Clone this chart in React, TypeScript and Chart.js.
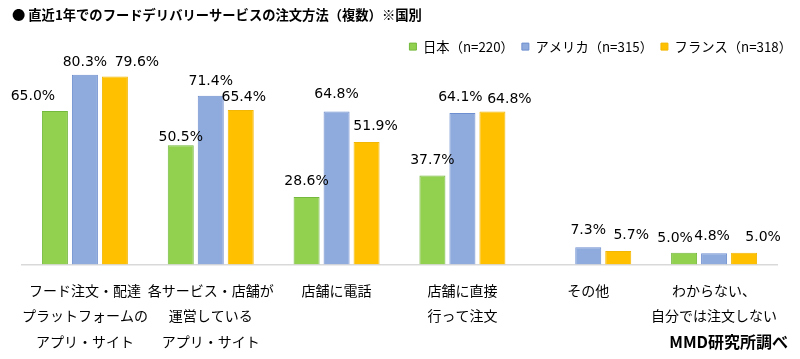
import React, { useEffect, useRef } from 'react';
import { Chart, registerables } from 'chart.js';
Chart.register(...registerables);

const categories = [
  ['フード注文・配達', 'プラットフォームの', 'アプリ・サイト'],
  ['各サービス・店舗が', '運営している', 'アプリ・サイト'],
  ['店舗に電話'],
  ['店舗に直接', '行って注文'],
  ['その他'],
  ['わからない、', '自分では注文しない'],
];
const seriesNames = ['日本（n=220）', 'アメリカ（n=315）', 'フランス（n=318）'];
const japan = [65.0, 50.5, 28.6, 37.7, null, 5.0];
const usa = [80.3, 71.4, 64.8, 64.1, 7.3, 4.8];
const france = [79.6, 65.4, 51.9, 64.8, 5.7, 5.0];
const titleText = '● 直近1年でのフードデリバリーサービスの注文方法（複数）※国別';
const sourceText = 'MMD研究所調べ';

// manual nudges of the value labels (as in the original)
const labelDx = [
  [-22, 0, 0, 0, 0, -9],
  [0, 0, 0, -2, 0, -2],
  [22, 3, 9, 17, 13, 19],
];
const labelDy = [
  [0, 7, -1, 0, 0, 1],
  [3, 0, -2, -1, -2, -2],
  [1, 2, -1, 3, -1, 0],
];

const JP = '"Noto Sans CJK JP", "Noto Sans", sans-serif';

const valueLabels = {
  id: 'valueLabels',
  afterDatasetsDraw(chart: any) {
    const ctx = chart.ctx;
    ctx.save();
    ctx.font = '14px "DejaVu Sans", sans-serif';
    ctx.fillStyle = '#000';
    ctx.textAlign = 'center';
    ctx.textBaseline = 'middle';
    chart.data.datasets.forEach((ds: any, di: number) => {
      const meta = chart.getDatasetMeta(di);
      meta.data.forEach((bar: any, i: number) => {
        const v = ds.data[i];
        if (v == null) return;
        ctx.fillText(v.toFixed(1) + '%', bar.x + labelDx[di][i], bar.y - 15 + labelDy[di][i]);
      });
    });
    ctx.restore();
  },
};

const sourceNote = {
  id: 'sourceNote',
  afterDraw(chart: any) {
    const ctx = chart.ctx;
    ctx.save();
    ctx.font = 'bold 16px ' + JP;
    ctx.fillStyle = '#000';
    ctx.textAlign = 'right';
    ctx.textBaseline = 'middle';
    ctx.fillText(sourceText, chart.width - 12, 342);
    ctx.restore();
  },
};

export default function App() {
  const ref = useRef<HTMLCanvasElement>(null);
  useEffect(() => {
    document.body.style.margin = '0';
    const chart = new Chart(ref.current!, {
      type: 'bar',
      data: {
        labels: categories,
        datasets: [
          { label: seriesNames[0], data: japan, backgroundColor: '#92D050', borderColor: '#74B83C', borderWidth: 1 },
          { label: seriesNames[1], data: usa, backgroundColor: '#8FAADC', borderColor: '#6E8FCF', borderWidth: 1 },
          { label: seriesNames[2], data: france, backgroundColor: '#FFC000', borderColor: '#F2B705', borderWidth: 1 },
        ],
      },
      options: {
        animation: false,
        responsive: false,
        maintainAspectRatio: false,
        categoryPercentage: 0.715,
        barPercentage: 0.867,
        layout: { padding: { left: 12, right: 0, top: 0, bottom: -8 } },
        plugins: {
          title: {
            display: true,
            text: titleText,
            align: 'start',
            color: '#000',
            font: { family: JP, size: 13.3, weight: 'bold' },
            padding: { top: 7, bottom: 9 },
          },
          legend: {
            display: true,
            align: 'end',
            labels: {
              boxWidth: 7,
              boxHeight: 7,
              padding: 8,
              color: '#000',
              font: { family: JP, size: 13.3 },
            },
          },
          tooltip: { enabled: false },
        },
        scales: {
          x: {
            grid: { display: false, drawTicks: false },
            border: { display: true, color: '#d9d9d9', width: 1.5 },
            ticks: {
              color: '#000',
              font: { family: JP, size: 14, lineHeight: 1.82 },
              padding: 13,
              maxRotation: 0,
              autoSkip: false,
            },
          },
          y: {
            min: 0,
            max: 85.2,
            grid: { display: false },
            border: { display: false },
            ticks: { display: false },
            afterFit: (s: any) => { s.width = 10; },
          },
          yR: {
            position: 'right',
            min: 0,
            max: 1,
            grid: { display: false },
            border: { display: false },
            ticks: { display: false },
            afterFit: (s: any) => { s.width = 23; },
          },
        },
      } as any,
      plugins: [valueLabels, sourceNote],
    });
    return () => chart.destroy();
  }, []);
  return (
    <div style={{ position: 'fixed', left: 0, top: 0, width: 800, height: 359 }}>
      <canvas ref={ref} width={800} height={359} />
    </div>
  );
}
